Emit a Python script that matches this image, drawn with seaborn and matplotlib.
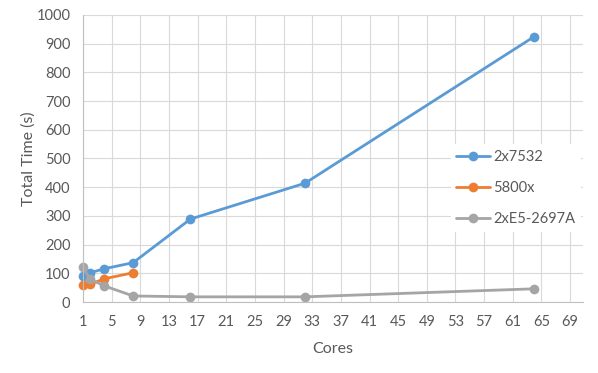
import matplotlib
matplotlib.use("Agg")
import matplotlib.pyplot as plt
import seaborn as sns
import pandas as pd

series_names = ["2x7532", "5800x", "2xE5-2697A"]
cores_7532 = [1, 2, 4, 8, 16, 32, 64]
time_7532 = [92, 102, 116, 137, 289, 414, 925]
cores_5800 = [1, 2, 4, 8]
time_5800 = [60, 62, 81, 102]
cores_e5 = [1, 2, 4, 8, 16, 32, 64]
time_e5 = [121, 79, 56, 21, 18, 18, 46]
x_ticks = list(range(1, 70, 4))
y_ticks = list(range(0, 1001, 100))
colors = ["#5B9BD5", "#ED7D31", "#A5A5A5"]

df = pd.concat([
    pd.DataFrame({"Cores": cores_7532, "Time": time_7532, "Series": series_names[0]}),
    pd.DataFrame({"Cores": cores_5800, "Time": time_5800, "Series": series_names[1]}),
    pd.DataFrame({"Cores": cores_e5, "Time": time_e5, "Series": series_names[2]}),
])

sns.set_style("white")
plt.rcParams["font.family"] = ["Lato", "DejaVu Sans"]

fig = plt.figure(figsize=(5.98, 3.73), dpi=100)
ax = fig.add_axes([83 / 598, 1 - 302 / 373, 500 / 598, 287 / 373])

sns.lineplot(data=df, x="Cores", y="Time", hue="Series", hue_order=series_names,
             palette=colors, marker="o", markersize=7, markeredgewidth=0,
             linewidth=2, ax=ax, legend=True)
for ln in ax.lines:
    ln.set_clip_on(False)

ax.set_xlim(1, 70.8)
ax.set_ylim(0, 1000)
ax.set_xticks(x_ticks)
ax.set_yticks(y_ticks)
ax.grid(True, color="#D9D9D9", linewidth=0.8)
ax.set_axisbelow(True)
for s in ["top", "right"]:
    ax.spines[s].set_visible(False)
for s in ["left", "bottom"]:
    ax.spines[s].set_color("#BFBFBF")
    ax.spines[s].set_linewidth(0.8)
ax.tick_params(axis="x", length=0, labelsize=10.5, labelcolor="#595959", pad=9)
ax.tick_params(axis="y", length=0, labelsize=10.5, labelcolor="#595959", pad=9)
ax.set_xlabel("Cores", fontsize=11.5, color="#595959", labelpad=10)
ax.set_ylabel("Total Time (s)", fontsize=11.5, color="#595959")
ax.yaxis.set_label_coords(-0.094, 0.5)

leg = ax.legend(loc="center left", bbox_to_anchor=(0.735, 0.397), frameon=True,
                fontsize=10.5, labelspacing=1.15, handlelength=2.3,
                handletextpad=0.25, borderpad=0.4, borderaxespad=0,
                framealpha=1)
leg.get_frame().set_edgecolor("white")
leg.get_frame().set_linewidth(0)
leg.get_frame().set_boxstyle("square", pad=0)
for t in leg.get_texts():
    t.set_color("#595959")

fig.savefig("out.png", dpi=100)
